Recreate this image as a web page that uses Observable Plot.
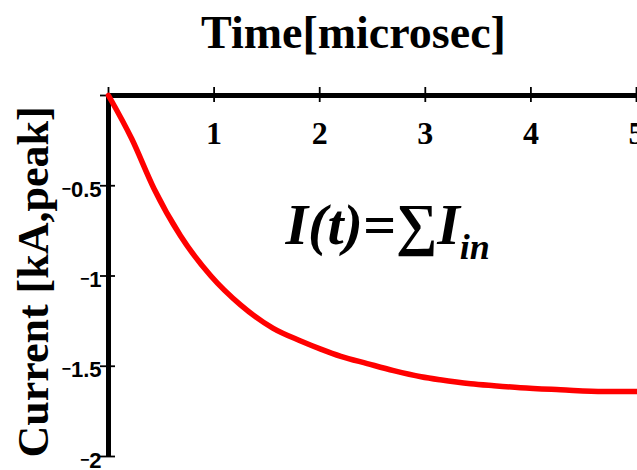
<!DOCTYPE html>
<html>
<head>
<meta charset="utf-8">
<script src="https://cdn.jsdelivr.net/npm/d3@7"></script>
<script src="https://cdn.jsdelivr.net/npm/@observablehq/plot@0.6"></script>
<style>
  html, body { margin: 0; padding: 0; background: #fff; }
</style>
</head>
<body>
<div id="chart"></div>
<script>
// Sampled discharge current (kA peak) against time (microseconds)
const time    = [0, 0.22, 0.43, 0.68, 0.97, 1.25, 1.56, 1.82, 2.01, 2.2, 2.45, 2.7, 2.96, 3.14, 3.43, 3.65, 3.9, 4.28, 4.69, 5.0];
const current = [0, -0.24, -0.515, -0.776, -1.0, -1.16, -1.29, -1.36, -1.405, -1.445, -1.485, -1.524, -1.558, -1.575, -1.597, -1.608, -1.619, -1.63, -1.64, -1.64];

// Axis ticks and their labels
const xTicks = [0, 1, 2, 3, 4, 5];
const xLabelTicks = [1, 2, 3, 4, 5];
const xTickLabels = ["1", "2", "3", "4", "5"];
const yTicks = [0, -0.5, -1, -1.5, -2];
const yLabelTicks = [-0.5, -1, -1.5, -2];
const yTickLabels = ["0.5", "1", "1.5", "2"];
const minusSign = "\u2212";

const xTitle = "Time[microsec]";
const yTitle = "Current [kA,peak]";
const formula = "I(t)=\u2211I";
const formulaSub = "in";

const serif = "'Liberation Serif', 'Times New Roman', Times, serif";
const sans = "'Liberation Sans', Arial, Helvetica, sans-serif";

const series = time.map((t, i) => ({t, v: current[i]}));

const svg = Plot.plot({
  width: 637,
  height: 470,
  marginLeft: 108,
  marginRight: 1,
  marginTop: 95,
  marginBottom: 14,
  style: {background: "#fff", overflow: "visible"},
  x: {domain: [0, 5], axis: null},
  y: {domain: [-2, 0], axis: null},
  marks: [
    // axis lines crossing at the origin
    Plot.ruleX([0], {y1: -2, y2: 0, stroke: "#000", strokeWidth: 5}),
    Plot.ruleY([0], {x1: 0, x2: 5, insetRight: -1, stroke: "#000", strokeWidth: 5}),
    // tick marks straddling each axis
    Plot.ruleX(xTicks, {x: d => d, y1: 0, y2: 0, insetTop: -8, insetBottom: -7, stroke: "#000", strokeWidth: 1.8}),
    Plot.ruleY(yTicks, {y: d => d, x1: 0, x2: 0, insetLeft: -8, insetRight: -7, stroke: "#000", strokeWidth: 1.8}),
    // tick labels
    Plot.text(xLabelTicks, {
      x: d => d, y: 0, text: (d, i) => xTickLabels[i], dy: 38,
      fontFamily: serif, fontWeight: "bold", fontSize: 32, fill: "#000", className: "xlabel"
    }),
    Plot.text(yLabelTicks, {
      x: 0, y: d => d, text: (d, i) => yTickLabels[i], textAnchor: "end", dx: -7, dy: 4,
      fontFamily: sans, fontWeight: "bold", fontSize: 22, fill: "#000", className: "ylabel"
    }),
    // current curve
    Plot.line(series, {x: "t", y: "v", stroke: "#ff0000", strokeWidth: 5.5, curve: "monotone-x"}),
    // axis titles
    Plot.text([xTitle], {
      frameAnchor: "top", dx: -19, dy: -48, lineAnchor: "bottom",
      fontFamily: serif, fontWeight: "bold", fontSize: 46, fill: "#000"
    }),
    Plot.text([yTitle], {
      frameAnchor: "left", rotate: -90, dx: -61, dy: 6, lineAnchor: "bottom", textAnchor: "middle",
      fontFamily: serif, fontWeight: "bold", fontSize: 44, fill: "#000"
    }),
    // formula annotation
    Plot.text([formula], {
      frameAnchor: "top-left", dx: 177, dy: 148, lineAnchor: "bottom", textAnchor: "start",
      fontFamily: serif, fontWeight: "bold", fontStyle: "italic", fontSize: 58, fill: "#000"
    })
  ]
});

const SVGNS = "http://www.w3.org/2000/svg";

// raised, short minus sign in front of each negative tick value
for (const t of svg.querySelectorAll(".ylabel text")) {
  const digits = t.textContent;
  t.textContent = "";
  const m = document.createElementNS(SVGNS, "tspan");
  m.style.fontSize = "16px";
  m.setAttribute("dy", "-3");
  m.textContent = minusSign;
  const n = document.createElementNS(SVGNS, "tspan");
  n.setAttribute("dy", "3");
  n.textContent = digits;
  t.appendChild(m);
  t.appendChild(n);
}

// subscript on the summed term
const f = [...svg.querySelectorAll("text")].find(t => t.textContent === formula);
if (f) {
  const sub = document.createElementNS(SVGNS, "tspan");
  sub.setAttribute("dy", "15");
  sub.setAttribute("font-size", "36");
  sub.textContent = formulaSub;
  f.appendChild(sub);
}

document.getElementById("chart").appendChild(svg);
</script>
</body>
</html>
